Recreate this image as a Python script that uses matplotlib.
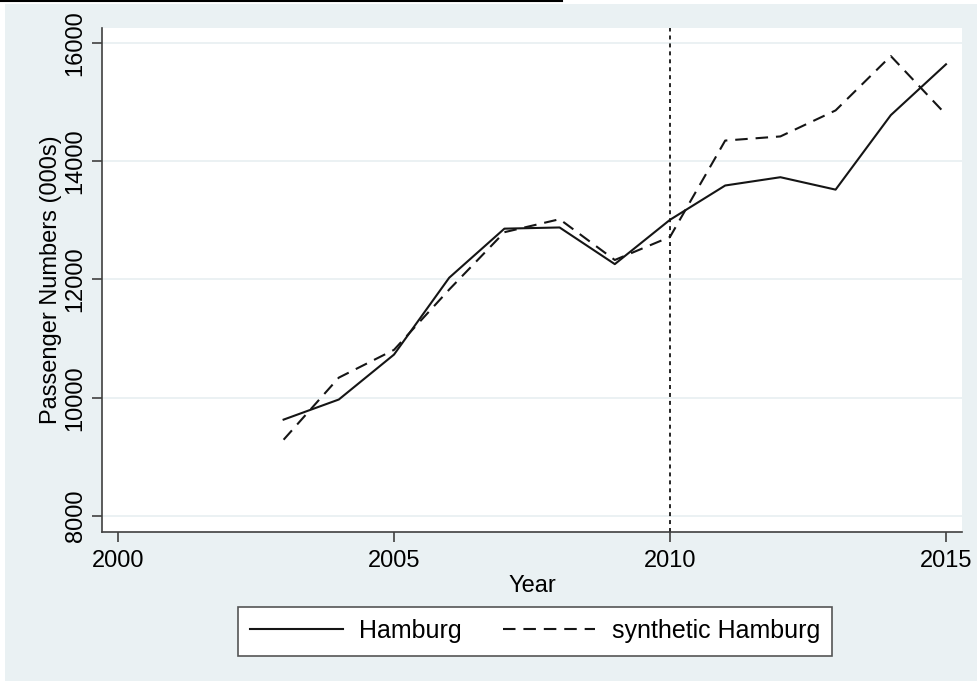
import numpy as np
import matplotlib.pyplot as plt
from matplotlib.patches import Rectangle
from matplotlib.lines import Line2D

plt.rcParams['font.family'] = ['Liberation Sans', 'DejaVu Sans']

years = [2003, 2004, 2005, 2006, 2007, 2008, 2009,
         2010, 2011, 2012, 2013, 2014, 2015]
hamburg = [9630, 9970, 10730, 12030, 12860, 12880, 12260,
           13010, 13590, 13730, 13520, 14780, 15640]
synthetic = [9290, 10340, 10810, 11830, 12800, 13020, 12330,
             12720, 14350, 14420, 14860, 15780, 14790]
treat_year = 2010
xticks = [2000, 2005, 2010, 2015]
yticks = [8000, 10000, 12000, 14000, 16000]

fs = 17
bg = '#eaf1f3'
fig = plt.figure(figsize=(9.77, 6.82), dpi=100)
fig.patch.set_facecolor('white')
# stata style background panel
fig.patches.append(Rectangle((5 / 977, 1 / 682), 972 / 977, 677 / 682,
                             transform=fig.transFigure, facecolor=bg,
                             edgecolor='none', zorder=-5))
# leftover rule from the page above
fig.add_artist(Line2D([0, 562 / 977], [681 / 682, 681 / 682],
                      transform=fig.transFigure, color='black', lw=1.5))

ax = fig.add_axes([102 / 977, 1 - 532 / 682, 860 / 977, 504 / 682])
ax.set_facecolor('white')

for y in yticks:
    ax.axhline(y, color='#e9f0f2', lw=1.3, zorder=1)

ax.plot(years, hamburg, color='#151515', lw=1.5, label='Hamburg', zorder=3)
ax.plot(years, synthetic, color='#151515', lw=1.5, dashes=(6, 3.8),
        label='synthetic Hamburg', zorder=3)
ax.axvline(treat_year, color='#151515', lw=1.3, dashes=(2.2, 2.2), zorder=2)

ax.set_xlim(1999.71, 2015.29)
ax.set_ylim(7729, 16254)
ax.set_xticks(xticks)
ax.set_yticks(yticks)
ax.set_yticklabels([str(v) for v in yticks], rotation=90, va='center')
ax.tick_params(axis='both', direction='out', length=7, width=1.2,
               color='#404040', labelsize=fs, labelcolor='black')
ax.tick_params(axis='x', pad=6)
ax.tick_params(axis='y', pad=4)

for side in ['top', 'right']:
    ax.spines[side].set_visible(False)
for side in ['left', 'bottom']:
    ax.spines[side].set_color('#404040')
    ax.spines[side].set_linewidth(1.2)

ax.set_xlabel('Year', fontsize=fs, labelpad=2)
ax.set_ylabel('Passenger Numbers (000s)', fontsize=fs, labelpad=2)

leg = fig.legend(loc='center', bbox_to_anchor=(535 / 977, 1 - 631 / 682),
                 ncol=2, fontsize=18, frameon=True, fancybox=False,
                 framealpha=1, facecolor='white',
                 handlelength=3.7, handletextpad=0.65, columnspacing=1.65,
                 borderpad=0.5, borderaxespad=0)
leg.get_frame().set_edgecolor('#555555')
leg.get_frame().set_linewidth(1.2)

fig.savefig('out.png', dpi=100)
